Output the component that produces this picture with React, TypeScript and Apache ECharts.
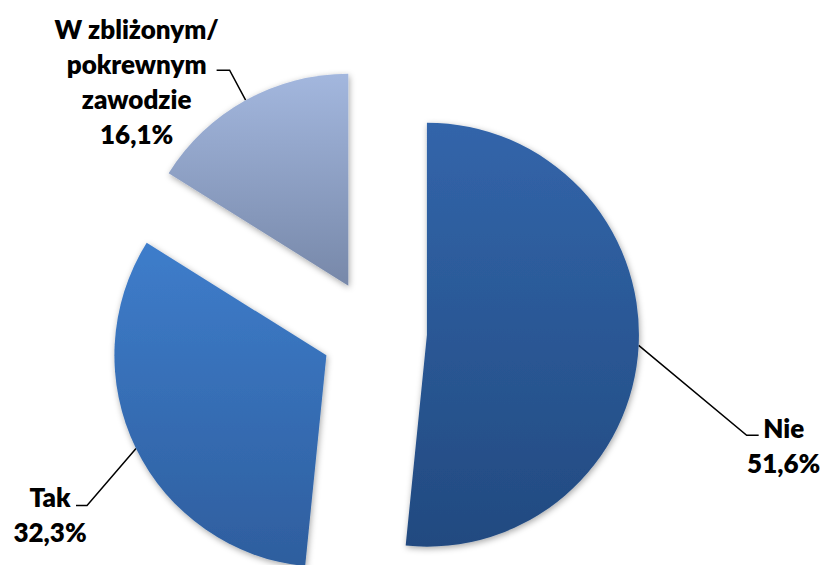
import React, { useEffect, useRef } from "react";
import * as echarts from "echarts";

const categories = ["Nie", "Tak", "W zbliżonym/\npokrewnym\nzawodzie"];
const values = [51.6, 32.3, 16.1];
const topColors = ["#3265aa", "#3e7dcb", "#a3b7de"];
const bottomColors = ["#224a80", "#2e5e9e", "#7788a9"];
// label offsets relative to the library's anchor point on each slice
const labelOffsets = [
  { elbow: [108, 90], end: [12, 0], text: [145, 100] },
  { elbow: [-49, 57], end: [-11, 0], text: [-86, 66] },
  { elbow: [-16, -30], end: [-13, 0], text: [-109, -19] },
];

export default function App() {
  const ref = useRef<HTMLDivElement>(null);
  useEffect(() => {
    if (!ref.current) return;
    const chart = echarts.init(ref.current, undefined, { renderer: "svg" });
    const data = categories.map((name, i) => ({
      name,
      value: values[i],
      selected: true,
      itemStyle: {
        color: new echarts.graphic.LinearGradient(0, 0, 0, 1, [
          { offset: 0, color: topColors[i] },
          { offset: 1, color: bottomColors[i] },
        ]),
      },
    }));
    chart.setOption({
      animation: false,
      backgroundColor: "#ffffff",
      series: [
        {
          type: "pie",
          center: [374, 332],
          radius: 212,
          startAngle: 90,
          clockwise: true,
          selectedMode: "multiple",
          selectedOffset: 53,
          data,
          itemStyle: {
            shadowBlur: 6,
            shadowOffsetX: 1,
            shadowOffsetY: 2,
            shadowColor: "rgba(0,0,0,0.35)",
          },
          emphasis: { disabled: true },
          label: {
            show: true,
            position: "outside",
            formatter: (p: any) =>
              `${p.name}\n${p.value.toFixed(1).replace(".", ",")}%`,
            fontFamily: "Lato",
            fontWeight: 800,
            fontSize: 26,
            lineHeight: 35,
            color: "#000000",
          },
          labelLine: {
            show: true,
            lineStyle: { color: "#000000", width: 1.5 },
          },
          labelLayout: (params: any) => {
            const o = labelOffsets[params.dataIndex];
            const p0 = params.labelLinePoints[0];
            const p1 = [p0[0] + o.elbow[0], p0[1] + o.elbow[1]];
            const p2 = [p1[0] + o.end[0], p1[1] + o.end[1]];
            const r = params.labelRect;
            const anchorX =
              params.align === "right"
                ? r.x + r.width
                : params.align === "center"
                ? r.x + r.width / 2
                : r.x;
            const cy = r.y + r.height / 2;
            return {
              align: "center",
              dx: p0[0] + o.text[0] - anchorX,
              dy: p0[1] + o.text[1] - cy,
              labelLinePoints: [p0, p1, p2],
            };
          },
        },
      ],
    });
    return () => chart.dispose();
  }, []);
  return (
    <div
      ref={ref}
      style={{ position: "fixed", left: 0, top: 0, width: 826, height: 565 }}
    />
  );
}
